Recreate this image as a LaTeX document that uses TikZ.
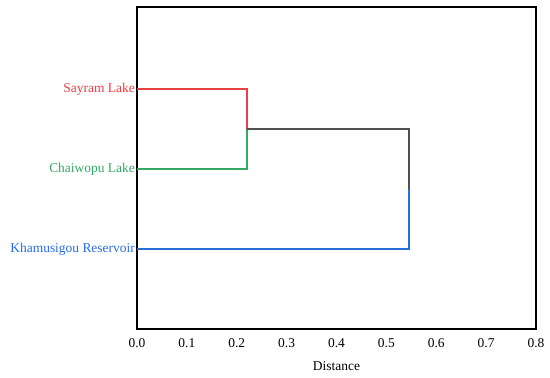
\documentclass[tikz,border=0pt]{standalone}
\usepackage{fontspec}
\setmainfont{Liberation Serif}
\definecolor{lred}{RGB}{232,64,70}
\definecolor{lgreen}{RGB}{52,168,100}
\definecolor{lblue}{RGB}{40,110,215}
\definecolor{lgray}{RGB}{80,80,80}
\begin{document}
\begin{tikzpicture}[x=1bp,y=-1bp,
  leaf/.style={anchor=east,inner sep=0pt,font=\fontsize{13.5}{16}\selectfont},
  tick/.style={anchor=center,inner sep=0pt,font=\fontsize{13.5}{16}\selectfont},
  link/.style={line width=1.3bp}]
\useasboundingbox (0,0) rectangle (550,377);
% frame
\draw[line width=1.4bp,black] (137,7) rectangle (536,329);
% leaf labels
\node[leaf,text=lred] (sayram) at (135,89) {Sayram Lake};
\node[leaf,text=lgreen] (chaiwopu) at (135,169) {Chaiwopu Lake};
\node[leaf,text=lblue] (kham) at (135,249) {Khamusigou Reservoir};
% coordinates
\coordinate (s0) at (137,89);
\coordinate (c0) at (137,169);
\coordinate (k0) at (137,249);
\coordinate (m1) at (247,129);
\coordinate (m2) at (409,129);
\coordinate (m2mid) at (409,189);
% links
\draw[link,lred] (s0) -- (s0 -| m1) -- (m1);
\draw[link,lgreen] (c0) -- (c0 -| m1) -- (m1);
\draw[link,lgray] (m1) -- (m2) -- (m2mid);
\draw[link,lblue] (k0) -- (k0 -| m2) -- (m2mid);
% tick labels
\foreach \v [count=\i from 0] in {0.0,0.1,0.2,0.3,0.4,0.5,0.6,0.7,0.8}
  \node[tick] (t\i) at (137+49.875*\i,343) {\v};
\node[tick] (xlabel) at (336.5,366) {Distance};
\end{tikzpicture}
\end{document}
